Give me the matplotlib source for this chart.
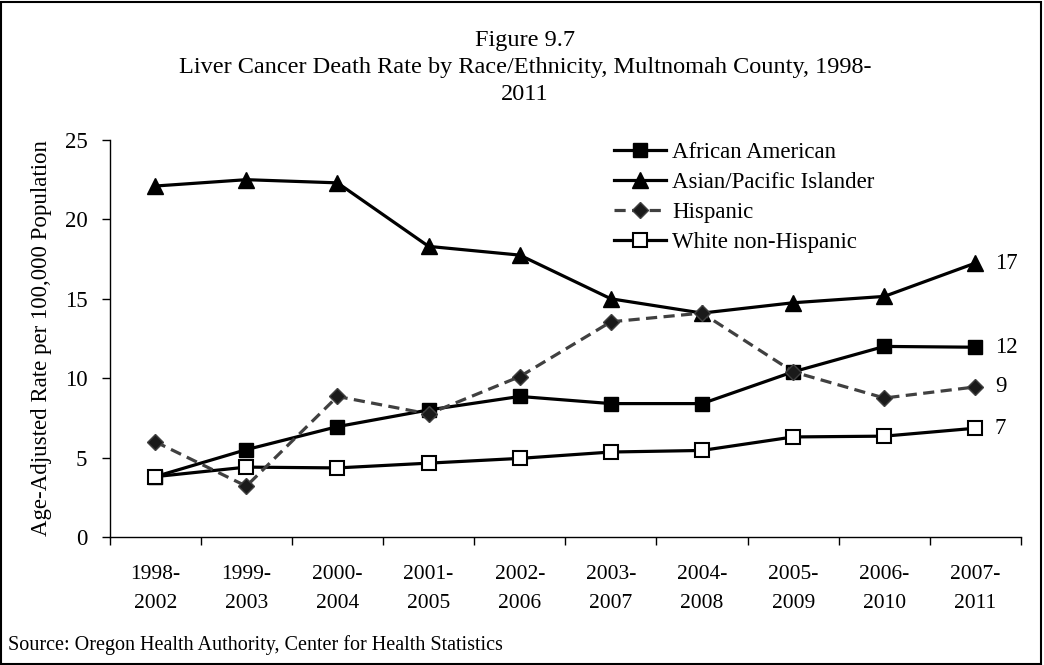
import matplotlib
matplotlib.use('Agg')
import matplotlib.pyplot as plt
from matplotlib.patches import Rectangle

plt.rcParams['font.family'] = ['Liberation Serif', 'DejaVu Serif']

periods = ['1998-\n2002', '1999-\n2003', '2000-\n2004', '2001-\n2005', '2002-\n2006',
           '2003-\n2007', '2004-\n2008', '2005-\n2009', '2006-\n2010', '2007-\n2011']
african_american = [3.8, 5.5, 6.95, 8.0, 8.85, 8.4, 8.4, 10.4, 12.0, 11.95]
asian_pi = [22.1, 22.5, 22.3, 18.3, 17.75, 15.0, 14.1, 14.75, 15.15, 17.25]
hispanic = [6.0, 3.2, 8.85, 7.75, 10.1, 13.55, 14.1, 10.4, 8.75, 9.45]
white_nh = [3.8, 4.4, 4.35, 4.65, 4.95, 5.35, 5.45, 6.3, 6.35, 6.85]
end_labels = ['12', '17', '9', '7']

fig = plt.figure(figsize=(10.44, 6.65), dpi=100)
ax = fig.add_axes([0.105, 0.1925, 0.873, 0.597])
x = list(range(len(periods)))

ax.plot(x, african_american, color='black', lw=2.3, marker='s', ms=10,
        mfc='black', mec='black', label='African American', zorder=3)
ax.plot(x, asian_pi, color='black', lw=2.3, marker='^', ms=11,
        mfc='black', mec='black', label='Asian/Pacific Islander', zorder=3)
ax.plot(x, hispanic, color='#404040', lw=2.3, ls=(0, (3.5, 2)), marker='D', ms=8.5,
        mfc='#1a1a1a', mec='#404040', label='Hispanic', zorder=4)
ax.plot(x, white_nh, color='black', lw=2.3, marker='s', ms=10.5,
        mfc='white', mec='black', mew=1.5, label='White non-Hispanic', zorder=3)

# end-of-line value labels
for series, lab in zip([african_american, asian_pi, hispanic, white_nh], end_labels):
    ax.annotate(lab, (x[-1], series[-1]), xytext=(14, 0), textcoords='offset points',
                va='center', ha='left', fontsize=16.5)

ax.set_xlim(-0.5, len(periods) - 0.5)
ax.set_ylim(0, 25)
ax.set_yticks([0, 5, 10, 15, 20, 25])
ax.set_xticks(x)
ax.set_xticklabels(periods, fontsize=15.5, linespacing=1.75)
ax.set_xticks([i - 0.5 for i in range(len(periods) + 1)], minor=True)
ax.tick_params(axis='x', which='major', length=0, pad=20)
ax.tick_params(axis='x', which='minor', length=6, width=1)
ax.tick_params(axis='y', length=6, width=1, labelsize=16.5, pad=10)
for s in ['top', 'right']:
    ax.spines[s].set_visible(False)
ax.spines['left'].set_linewidth(1)
ax.spines['bottom'].set_linewidth(1)

ax.set_ylabel('Age-Adjusted Rate per 100,000 Population', fontsize=16.5, labelpad=9)

ax.legend(loc='upper left', bbox_to_anchor=(0.543, 1.017), frameon=False, fontsize=16.5,
          handlelength=2.3, handletextpad=0.26, labelspacing=0.38, borderaxespad=0)

fig.text(0.503, 1 - 30 / 665, 'Figure 9.7\nLiver Cancer Death Rate by Race/Ethnicity, Multnomah County, 1998-\n2011',
         ha='center', va='top', fontsize=17.5, linespacing=1.37, multialignment='center')
fig.text(8 / 1044, 1 - 645 / 665, 'Source: Oregon Health Authority, Center for Health Statistics',
         ha='left', va='center', fontsize=14.5)

fig.patches.append(Rectangle((0.001, 0.0015), 0.996, 0.996, transform=fig.transFigure,
                             fill=False, edgecolor='black', lw=1.5))

fig.savefig('out.png', dpi=100)
